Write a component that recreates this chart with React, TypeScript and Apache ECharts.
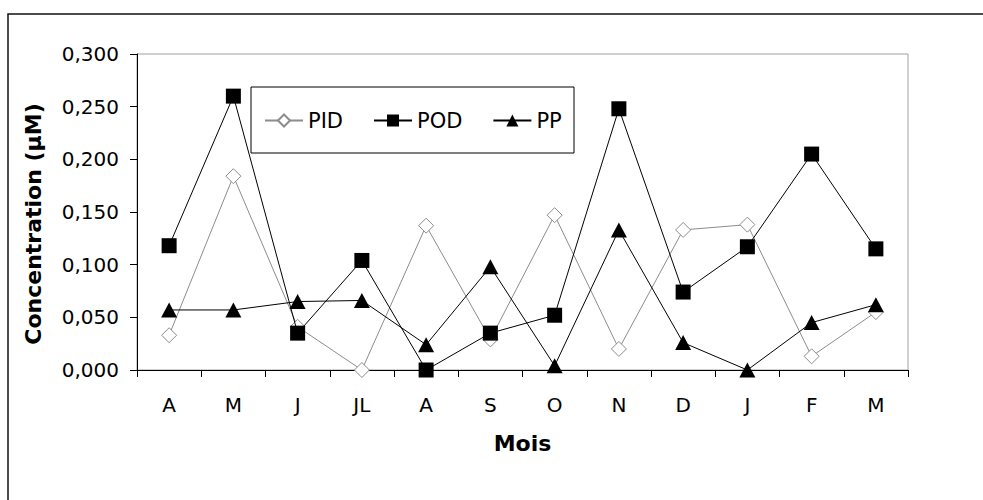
import React, { useEffect, useRef } from "react";
import * as echarts from "echarts";

const months = ["A", "M", "J", "JL", "A", "S", "O", "N", "D", "J", "F", "M"];
const pid = [0.033, 0.184, 0.041, 0.0, 0.137, 0.029, 0.147, 0.02, 0.133, 0.138, 0.013, 0.055];
const pod = [0.118, 0.26, 0.035, 0.104, 0.0, 0.035, 0.052, 0.248, 0.074, 0.117, 0.205, 0.115];
const pp = [0.057, 0.057, 0.065, 0.066, 0.024, 0.098, 0.004, 0.133, 0.026, 0.0, 0.045, 0.062];
const seriesNames = ["PID", "POD", "PP"];
const yTicks = { min: 0, max: 0.3, interval: 0.05 };

const FONT = "DejaVu Sans";

export default function App() {
  const ref = useRef<HTMLDivElement>(null);
  useEffect(() => {
    if (!ref.current) return;
    const chart = echarts.init(ref.current, undefined, { renderer: "svg" });
    chart.setOption({
      animation: false,
      backgroundColor: "#ffffff",
      textStyle: { fontFamily: FONT },
      grid: {
        left: 137,
        top: 54,
        right: 75,
        bottom: 130,
        show: true,
        borderColor: "#a0a0a0",
        borderWidth: 1,
        backgroundColor: "transparent",
      },
      graphic: [
        {
          type: "rect",
          shape: { x: 8, y: 14, width: 1000, height: 520 },
          style: { fill: "none", stroke: "#111", lineWidth: 1.5 },
          silent: true,
        },
        {
          type: "rect",
          shape: { x: 251, y: 87, width: 323, height: 66 },
          style: { fill: "#fff", stroke: "#000", lineWidth: 1 },
          z: 5,
          silent: true,
        },
      ],
      legend: {
        left: 264,
        top: 110,
        z: 10,
        itemWidth: 38,
        itemHeight: 15,
        itemGap: 30,
        padding: 0,
        textStyle: { fontFamily: FONT, fontSize: 21, color: "#000" },
        data: seriesNames,
      },
      xAxis: {
        type: "category",
        data: months,
        boundaryGap: true,
        axisLine: { lineStyle: { color: "#000", width: 1 } },
        axisTick: { show: true, length: 7, lineStyle: { color: "#000" } },
        axisLabel: { color: "#000", fontSize: 20, fontFamily: FONT, margin: 25, interval: 0 },
        name: "Mois",
        nameLocation: "middle",
        nameGap: 62,
        nameTextStyle: { fontFamily: FONT, fontSize: 22, fontWeight: "bold", color: "#000" },
      },
      yAxis: {
        type: "value",
        min: yTicks.min,
        max: yTicks.max,
        interval: yTicks.interval,
        splitLine: { show: false },
        axisLine: { show: true, lineStyle: { color: "#000", width: 1 } },
        axisTick: { show: true, length: 7, lineStyle: { color: "#000" } },
        axisLabel: {
          color: "#000",
          fontSize: 20,
          fontFamily: FONT,
          margin: 18,
          formatter: (v: number) => v.toFixed(3).replace(".", ","),
        },
        name: "Concentration (µM)",
        nameLocation: "middle",
        nameGap: 93,
        nameTextStyle: {
          fontFamily: FONT,
          fontSize: 22,
          fontWeight: "bold",
          color: "#000",
          padding: [0, 24, 0, 0],
        },
      },
      series: [
        {
          name: "PID",
          type: "line",
          data: pid,
          symbol: "diamond",
          symbolSize: 15,
          lineStyle: { color: "#8c8c8c", width: 1 },
          itemStyle: { color: "#ffffff", borderColor: "#8c8c8c", borderWidth: 1 },
          z: 2,
        },
        {
          name: "POD",
          type: "line",
          data: pod,
          symbol: "rect",
          symbolSize: 15,
          lineStyle: { color: "#000", width: 1 },
          itemStyle: { color: "#000", borderColor: "#000", borderWidth: 0 },
          z: 3,
        },
        {
          name: "PP",
          type: "line",
          data: pp,
          symbol: "triangle",
          symbolSize: [16, 15],
          lineStyle: { color: "#000", width: 1 },
          itemStyle: { color: "#000", borderColor: "#000", borderWidth: 0 },
          z: 4,
        },
      ],
    });
    return () => chart.dispose();
  }, []);
  return (
    <div
      ref={ref}
      style={{ position: "fixed", left: 0, top: 0, width: 983, height: 500, background: "#fff" }}
    />
  );
}
